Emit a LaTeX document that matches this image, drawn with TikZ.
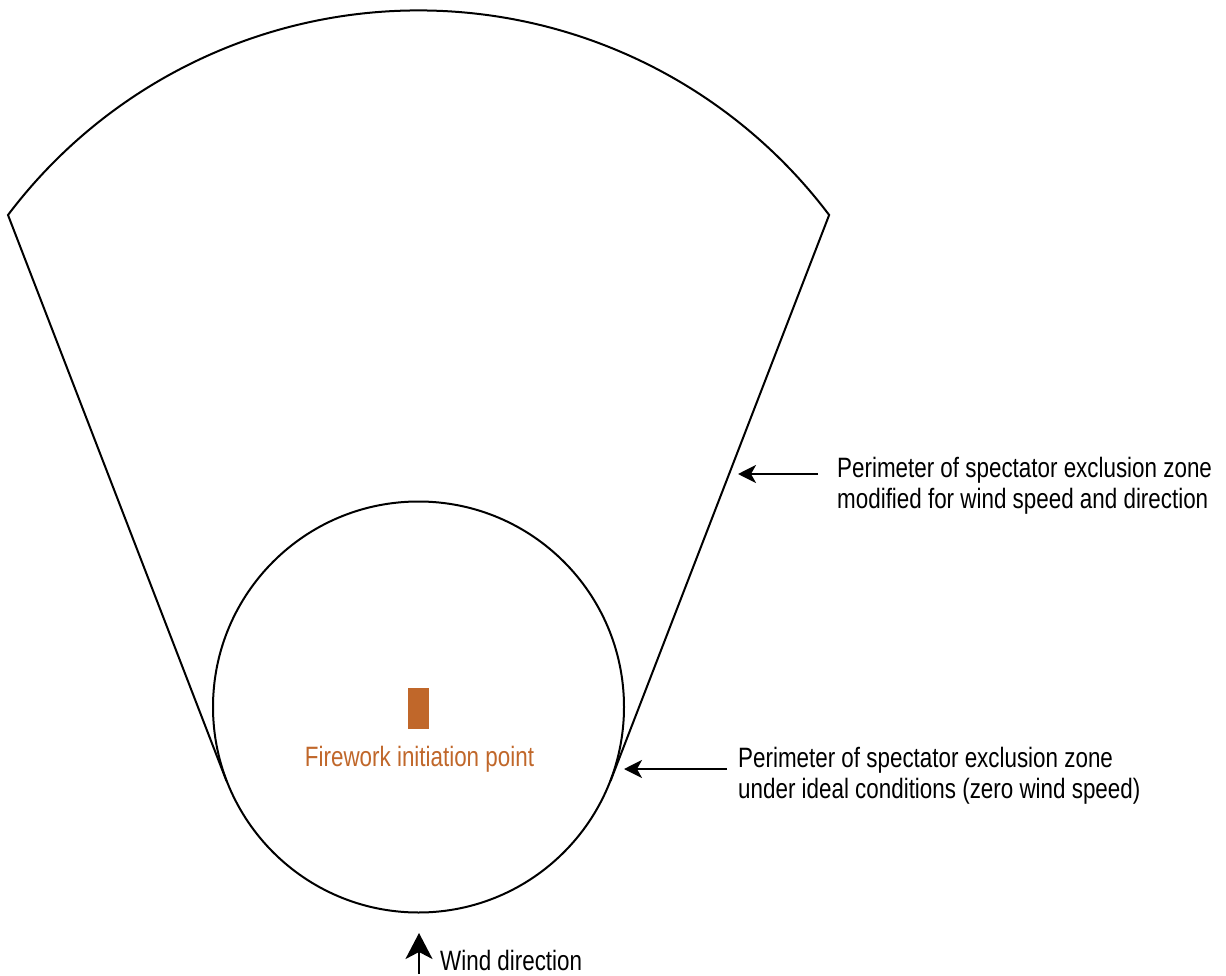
\documentclass[tikz,border=0pt]{standalone}
\usepackage{fontspec}
\setmainfont{Liberation Sans}[FakeStretch=0.80]
\usetikzlibrary{arrows.meta}
\definecolor{fwork}{HTML}{C0672A}
\tikzset{
  zone/.style={line width=2pt, black, line join=miter},
  ptr/.style={line width=2pt, -{Stealth[length=18pt,width=18pt,inset=5pt]}},
  windptr/.style={line width=2.2pt, -{Stealth[length=26pt,width=27pt,inset=7pt]}},
  lbl/.style={inner sep=0pt, anchor=base west, font=\fontsize{28}{32}\selectfont},
}
\begin{document}
\begin{tikzpicture}[x=1pt,y=-1pt]
\useasboundingbox (0,0) rectangle (1226,976);
% geometry
\coordinate (cc) at (418.5,707);
\coordinate (tl) at (8,215);
\coordinate (tr) at (828,213);
\coordinate (pl) at (226.5,781);
\coordinate (pr) at (610.5,781);
% ideal zone circle
\draw[zone] (cc) circle[radius=205.5];
% modified zone fan
\draw[zone] (pl) -- (tl) arc[start angle=217.03, end angle=322.97, radius=514.3] -- (pr);
% firework point
\node[fill=fwork, minimum width=21pt, minimum height=41pt, inner sep=0pt] (fw) at (418.5,708.5) {};
\node[lbl, anchor=base, text=fwork] (fwt) at (419.5,766) {Firework initiation point};
% label 1
\node[lbl] (l1a) at (837,477) {Perimeter of spectator exclusion zone};
\node[lbl] (l1b) at (837,508.5) {modified for wind speed and direction};
\coordinate (a1s) at (818,474);
\coordinate (a1e) at (738,474);
\draw[ptr] (a1s) -- (a1e);
% label 2
\node[lbl] (l2a) at (738,767) {Perimeter of spectator exclusion zone};
\node[lbl] (l2b) at (738,798) {under ideal conditions (zero wind speed)};
\coordinate (a2s) at (727,769);
\coordinate (a2e) at (624,769);
\draw[ptr] (a2s) -- (a2e);
% wind
\coordinate (ws) at (419,974);
\coordinate (we) at (419,933);
\draw[windptr] (ws) -- (we);
\node[lbl] (wt) at (440,970) {Wind direction};
\end{tikzpicture}
\end{document}
